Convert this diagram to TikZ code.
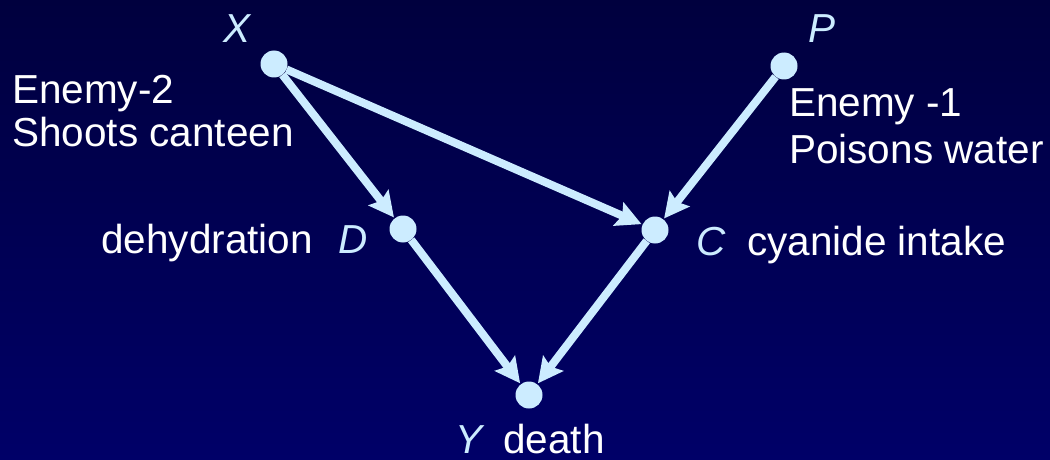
\documentclass[tikz,border=0pt]{standalone}
\usepackage{fontspec}
\setmainfont{Liberation Sans}
\usetikzlibrary{arrows.meta}
\definecolor{bgtop}{RGB}{0,0,62}
\definecolor{bgbot}{RGB}{0,0,104}
\definecolor{lblue}{RGB}{204,236,255}
\tikzset{
  dot/.style={circle, fill=lblue, draw=none, minimum size=27pt, inner sep=0pt},
  txt/.style={text=white, font=\fontsize{40.5}{44}\selectfont, inner sep=0pt, anchor=base west},
  var/.style={text=lblue, font=\fontsize{40.5}{44}\selectfont\itshape, inner sep=0pt, anchor=base west},
  link/.style={draw=lblue, line width=8pt, -{Stealth[length=25pt,width=25pt,inset=4pt]}, shorten >=1pt}
}
\begin{document}
\begin{tikzpicture}[x=1pt,y=-1pt]
\shade[top color=bgtop, bottom color=bgbot] (0,0) rectangle (1050,460);
\useasboundingbox (0,0) rectangle (1050,460);
% nodes
\node[dot] (X) at (274,64) {};
\node[dot] (P) at (784,66) {};
\node[dot] (D) at (403,229) {};
\node[dot] (C) at (655,230) {};
\node[dot] (Y) at (529,395) {};
% connectors
\draw[link] (X) -- (D);
\draw[link] (X) -- (C);
\draw[link] (P) -- (C);
\draw[link] (D) -- (Y);
\draw[link] (C) -- (Y);
% labels
\node[var] (lX) at (223,43) {X};
\node[var] (lP) at (808,43) {P};
\node[txt] (e2a) at (12,103) {Enemy-2};
\node[txt] (e2b) at (12,146) {Shoots canteen};
\node[txt] (e1a) at (789,116) {Enemy -1};
\node[txt] (e1b) at (789,163) {Poisons water};
\node[txt] (lDd) at (101,253) {dehydration};
\node[var] (lD) at (338,253) {D};
\node[var] (lC) at (696,255) {C};
\node[txt] (lCc) at (747,255) {cyanide intake};
\node[var] (lY) at (455,453) {Y};
\node[txt] (lYy) at (503,453) {death};
\end{tikzpicture}
\end{document}
